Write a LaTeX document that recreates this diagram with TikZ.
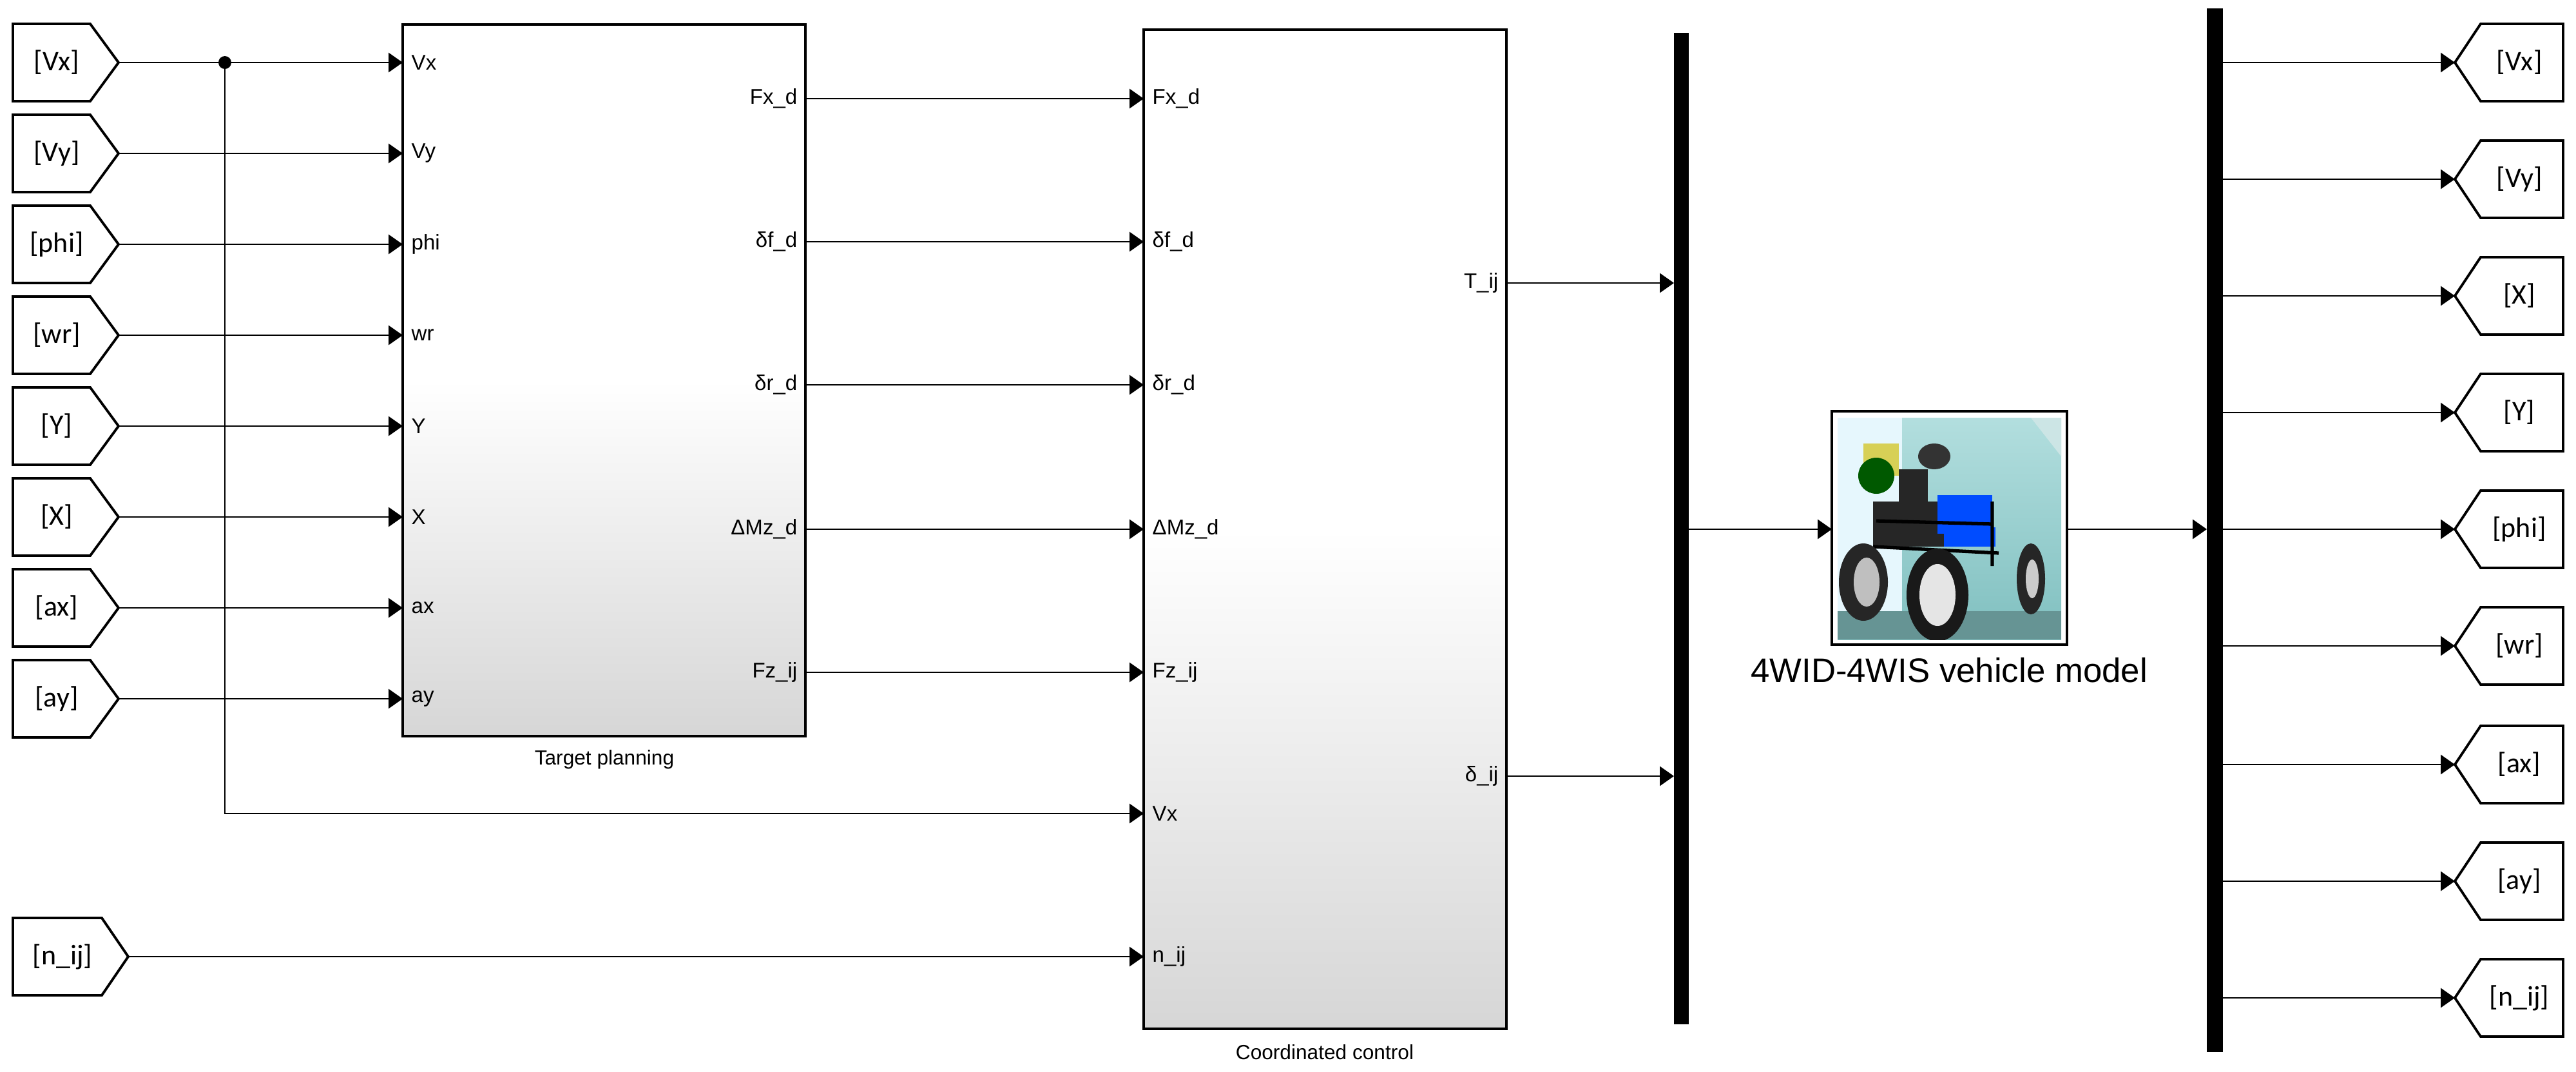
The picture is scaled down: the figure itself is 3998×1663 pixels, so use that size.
\documentclass[tikz,border=0pt]{standalone}
\usepackage{fontspec}
\setmainfont{Liberation Sans}
\newfontfamily\tagfont{Carlito}
\usetikzlibrary{arrows.meta}
\tikzset{
 wire/.style={line width=0.8pt,-{Triangle[length=6.2pt,width=8.5pt]}},
 tagbox/.style={line width=1.1pt,draw=black,fill=white},
 tagtxt/.style={font=\tagfont\fontsize{12.5}{13}\selectfont},
 port/.style={font=\fontsize{9.4}{10}\selectfont,inner sep=0pt},
 blklbl/.style={font=\fontsize{9}{10}\selectfont},
 bar/.style={fill=black},
}
\newcommand{\lefttag}[5]{% name, y, text, rect right, point x
 \draw[tagbox] (20,#2-60) -- (#4,#2-60) -- (#5,#2) -- (#4,#2+60) -- (20,#2+60) -- cycle;
 \node[tagtxt] (#1t) at ({(20+#4)/2+8},#2) {#3};
 \coordinate (#1) at (#5,#2);}
\newcommand{\righttag}[3]{% name, y, text
 \draw[tagbox] (3810,#2) -- (3850,#2-60) -- (3978,#2-60) -- (3978,#2+60) -- (3850,#2+60) -- cycle;
 \node[tagtxt] (#1t) at (3910,#2) {#3};
 \coordinate (#1) at (3810,#2);}
\begin{document}
\begin{tikzpicture}[x=0.01cm,y=-0.01cm]
\useasboundingbox (0,0) rectangle (3998,1663);
% blocks
\shade[top color=white,bottom color=black!16,middle color=white] (625,38) rectangle (1250,1142);
\draw[line width=1.1pt] (625,38) rectangle (1250,1142);
\node[blklbl] (tpl) at (938,1178) {Target planning};
\shade[top color=white,bottom color=black!16,middle color=white] (1775,46) rectangle (2338,1596);
\draw[line width=1.1pt] (1775,46) rectangle (2338,1596);
\node[blklbl] (ccl) at (2056,1632) {Coordinated control};
% left tags
\lefttag{iVx}{97}{[Vx]}{140}{184}
\lefttag{iVy}{238}{[Vy]}{140}{184}
\lefttag{iphi}{379}{[phi]}{140}{184}
\lefttag{iwr}{520}{[wr]}{140}{184}
\lefttag{iY}{661}{[Y]}{140}{184}
\lefttag{iX}{802}{[X]}{140}{184}
\lefttag{iax}{943}{[ax]}{140}{184}
\lefttag{iay}{1084}{[ay]}{140}{184}
\lefttag{inij}{1484}{[n\_ij]}{158}{199}
% TP input ports
\foreach \n/\y/\t in {pVx/97/Vx,pVy/238/Vy,pphi/379/phi,pwr/520/wr,pY/661/Y,pX/802/X,pax/943/ax,pay/1084/ay}{
 \coordinate (\n) at (625,\y);
 \node[port,anchor=west] at (638,\y) {\t};}
\foreach \a/\b in {iVx/pVx,iVy/pVy,iphi/pphi,iwr/pwr,iY/pY,iX/pX,iax/pax,iay/pay}
 \draw[wire] (\a) -- (\b);
% junction
\coordinate (jn) at (349,97);
\fill (jn) circle (10);
% TP outputs and CC inputs
\foreach \n/\y/\t in {Fx/153/Fx\_d,df/375/δf\_d,dr/597/δr\_d,Mz/821/ΔMz\_d,Fz/1043/Fz\_ij}{
 \coordinate (o\n) at (1250,\y);
 \coordinate (c\n) at (1775,\y);
 \node[port,anchor=east] at (1238,\y) {\t};
 \node[port,anchor=west] at (1788,\y) {\t};
 \draw[wire] (o\n) -- (c\n);}
\coordinate (cVx) at (1775,1262);
\node[port,anchor=west] at (1788,1262) {Vx};
\draw[wire] (jn) |- (cVx);
\coordinate (cnij) at (1775,1484);
\node[port,anchor=west] at (1788,1484) {n\_ij};
\draw[wire] (inij) -- (cnij);
% CC outputs
\coordinate (oT) at (2338,439);
\coordinate (od) at (2338,1204);
\node[port,anchor=east] at (2326,439) {T\_ij};
\node[port,anchor=east] at (2326,1204) {δ\_ij};
% mux bar
\fill[bar] (2598,51) rectangle (2621,1589);
\coordinate (m1a) at (2598,439);
\coordinate (m1b) at (2598,1204);
\coordinate (m1o) at (2621,821);
\draw[wire] (oT) -- (m1a);
\draw[wire] (od) -- (m1b);
% vehicle picture
\begin{scope}[shift={(2852,648)}]
\clip (0,0) rectangle (347,344);
\shade[top color=cyan!15!teal!30,bottom color=teal!50] (0,0) rectangle (347,344);
\fill[cyan!10!white] (0,0) rectangle (100,344);
\fill[teal!20!white] (300,0) -- (347,0) -- (347,60) -- cycle;
\fill[yellow!40!olive!60] (40,40) rectangle (95,90);
\fill[white!90!cyan] (10,70) rectangle (40,150);
\fill[green!35!black] (60,90) circle (28);
\fill[black!85] (55,130) rectangle (190,200);
\fill[black!85] (95,80) rectangle (140,130);
\fill[black!80] (150,60) ellipse (25 and 20);
\fill[blue!70!cyan] (155,120) rectangle (240,180);
\fill[blue!70!cyan] (165,170) rectangle (245,200);
\draw[black,line width=1.5pt] (55,200) -- (250,210) (60,160) -- (240,165) (240,130) -- (240,230);
\fill[teal!60!black!60] (0,300) rectangle (347,344);
\fill[black!85] (40,255) ellipse (38 and 60);
\fill[gray!50] (45,255) ellipse (20 and 38);
\fill[black!90] (155,275) ellipse (48 and 72);
\fill[gray!20] (155,275) ellipse (28 and 48);
\fill[black!85] (300,250) ellipse (22 and 55);
\fill[gray!40] (302,250) ellipse (10 and 30);
\end{scope}
\draw[line width=1.2pt] (2843,638) rectangle (3208,1000);
\node (veh) at (3025,819) [minimum width=3.65cm,minimum height=3.62cm] {};
\node[font=\fontsize{15}{16}\selectfont] (vehl) at (3025,1040) {4WID-4WIS vehicle model};
\coordinate (vin) at (2843,821);
\coordinate (vout) at (3208,821);
\draw[wire] (m1o) -- (vin);
% demux bar
\fill[bar] (3425,13) rectangle (3450,1632);
\coordinate (m2i) at (3425,821);
\draw[wire] (vout) -- (m2i);
\foreach \n/\y/\t in {oVx/97/[Vx],oVy/278/[Vy],oX/459/[X],oY/640/[Y],ophi/821/[phi],owr/1002/[wr],oax/1186/[ax],oay/1367/[ay],onij/1548/[n\_ij]}{
 \righttag{\n}{\y}{\t}
 \coordinate (b\n) at (3450,\y);
 \draw[wire] (b\n) -- (\n);}
\end{tikzpicture}
\end{document}
